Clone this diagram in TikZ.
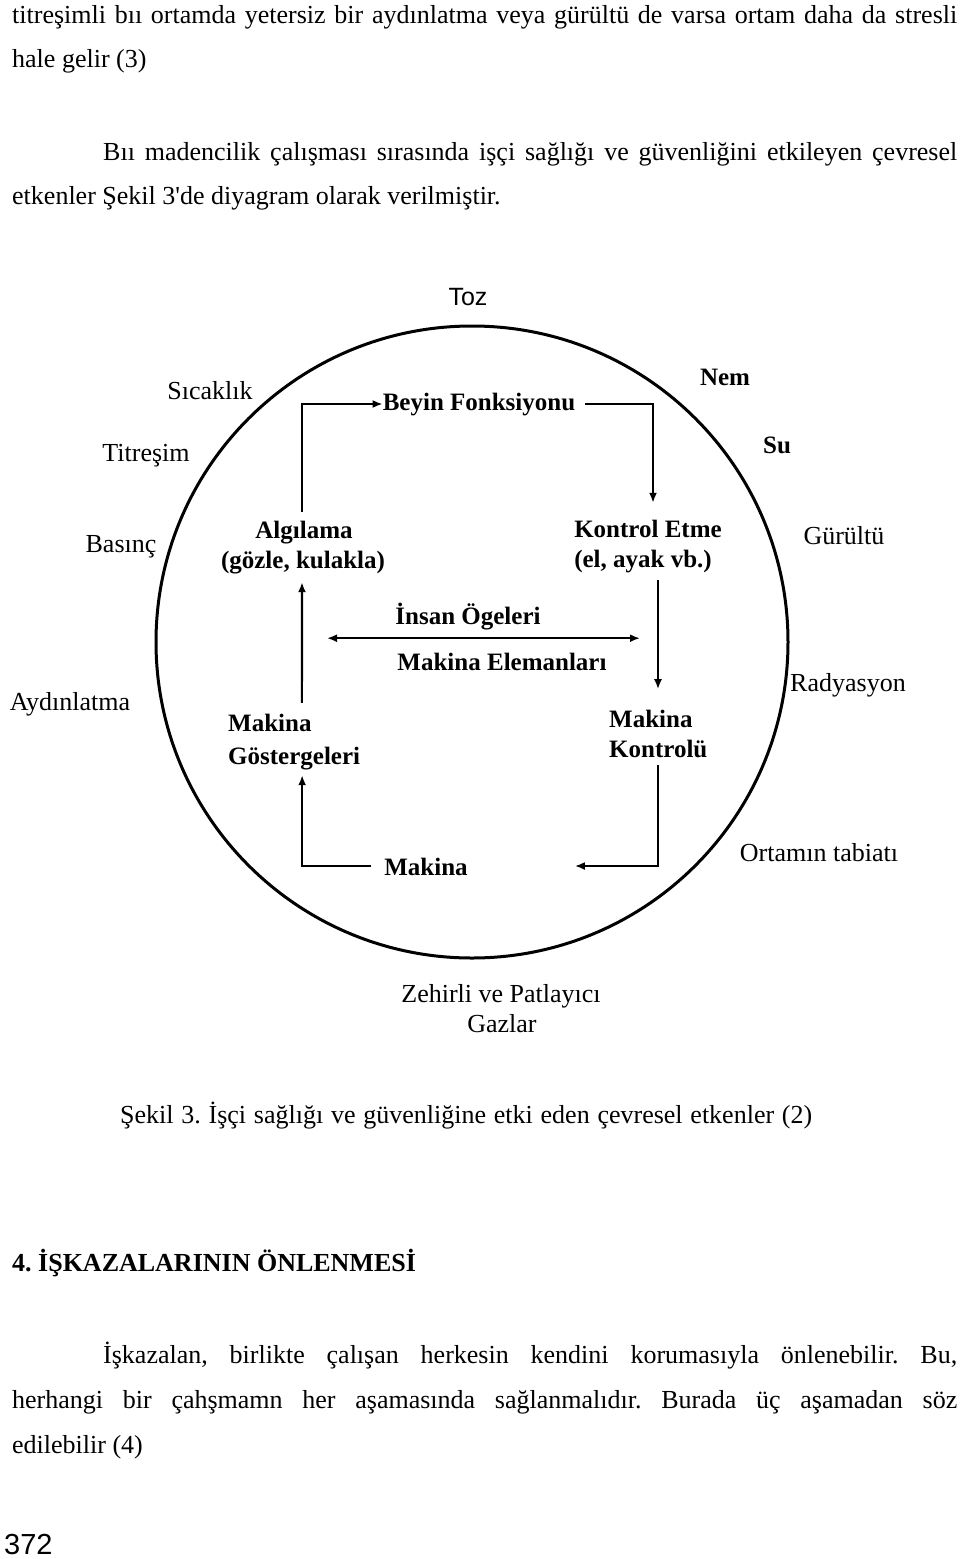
\documentclass[tikz,border=0pt]{standalone}
\usepackage{fontspec}
\setmainfont{Liberation Serif}
\newfontfamily\straightfont{Liberation Serif}
\newfontfamily\arialfont{Liberation Sans}
\usetikzlibrary{arrows.meta}
\frenchspacing
\begin{document}
\begin{tikzpicture}[x=1pt,y=-1pt,
  body/.style={inner sep=0pt, text height=17pt, text depth=5pt, font=\fontsize{26}{30}\selectfont\frenchspacing},
  lab/.style={inner sep=0pt, text height=17pt, text depth=5pt, font=\fontsize{26}{30}\selectfont},
  inlab/.style={inner sep=0pt, text height=17pt, text depth=5pt, font=\fontsize{25}{30}\selectfont\bfseries},
  flow/.style={line width=2.2pt, -{Latex[length=10pt,width=8pt]}},
  dflow/.style={line width=2.2pt, {Latex[length=10pt,width=8pt]}-{Latex[length=10pt,width=8pt]}},
  ]
\useasboundingbox (0,0) rectangle (960,1559);
\fill[white] (0,0) rectangle (960,1559);

% body text above
\node[body, anchor=west] (p1) at (12,17) {\makebox[945pt][s]{titreşimli bıı ortamda yetersiz bir aydınlatma veya gürültü de varsa ortam daha da stresli}};
\node[body, anchor=west] (p2) at (12,61) {hale gelir (3)};
\node[body, anchor=west] (p3) at (103,154) {\makebox[854pt][s]{Bıı madencilik çalışması sırasında işçi sağlığı ve güvenliğini etkileyen çevresel}};
\node[body, anchor=west] (p4) at (12,198) {etkenler Şekil {\straightfont 3'de} diyagram olarak verilmiştir.};

% circle
\node[draw, circle, line width=3pt, minimum size=632pt, inner sep=0pt] (env) at (472,642) {};

% outer labels
\node[anchor=base, inner sep=0pt, font=\arialfont\fontsize{25}{30}\selectfont] (toz) at (468,305) {Toz};
\node[lab] (sic) at (210,393) {Sıcaklık};
\node[lab] (tit) at (146,455) {Titreşim};
\node[lab] (bas) at (121,546) {Basınç};
\node[lab] (ayd) at (70,704) {Aydınlatma};
\node[lab] (gur) at (844,538) {Gürültü};
\node[lab] (rad) at (848,685) {Radyasyon};
\node[lab] (ort) at (819,855) {Ortamın tabiatı};
\node[lab] (zeh) at (501,996) {Zehirli ve Patlayıcı};
\node[lab] (gaz) at (502,1026) {Gazlar};
\node[inlab] (nem) at (725,379) {Nem};
\node[inlab] (su) at (777,447) {Su};

% inner labels
\node[inlab] (bf) at (479,404) {Beyin Fonksiyonu};
\node[inlab] (alg) at (304,532) {Algılama};
\node[inlab] (alg2) at (303,562) {(gözle, kulakla)};
\node[inlab] (kon) at (648,531) {Kontrol Etme};
\node[inlab] (kon2) at (643,561) {(el, ayak vb.)};
\node[inlab] (ins) at (468,618) {İnsan Ögeleri};
\node[inlab] (mel) at (502,664) {Makina Elemanları};
\node[inlab, anchor=west] (mg1) at (228,725) {Makina};
\node[inlab, anchor=west] (mg2) at (228,758) {Göstergeleri};
\node[inlab, anchor=west] (mk1) at (609,721) {Makina};
\node[inlab, anchor=west] (mk2) at (609,751) {Kontrolü};
\node[inlab] (mak) at (426,869) {Makina};

% connectors
\draw[flow] ([xshift=-2pt,yshift=9pt]alg.north) |- (bf.west);
\draw[flow] ([xshift=10pt]bf.east) -| ([xshift=5pt,yshift=17pt]kon.north);
\draw[flow] ([xshift=15pt,yshift=-8pt]kon2.south) -- ([xshift=15pt,yshift=-117pt]kon2.south);
\draw[flow] ([yshift=-3pt]mk2.south) |- ([xshift=107pt,yshift=3pt]mak.east);
\draw[flow] ([xshift=-13pt,yshift=3pt]mak.west) -| ([xshift=8pt,yshift=-6pt]mg2.south);
\draw[flow] ([xshift=32pt,yshift=11pt]mg1.north) -- ([xshift=-1pt,yshift=-9pt]alg2.south);
\draw[dflow] ([xshift=-141pt,yshift=-9pt]ins.south) -- ([xshift=172pt,yshift=-9pt]ins.south);

% caption and text below
\node[body, anchor=west] (cap) at (120,1117) {\makebox[692pt][s]{Şekil 3. İşçi sağlığı ve güvenliğine etki eden çevresel etkenler (2)}};
\node[body, anchor=west, font=\fontsize{26}{30}\selectfont\bfseries] (head) at (12,1265) {4. İŞKAZALARININ ÖNLENMESİ};
\node[body, anchor=west] (q1) at (103,1357) {\makebox[854pt][s]{İşkazalan, birlikte çalışan herkesin kendini korumasıyla önlenebilir. Bu,}};
\node[body, anchor=west] (q2) at (12,1402) {\makebox[945pt][s]{herhangi bir çahşmamn her aşamasında sağlanmalıdır. Burada üç aşamadan söz}};
\node[body, anchor=west] (q3) at (12,1447) {edilebilir (4)};
\node[anchor=base west, inner sep=0pt, font=\arialfont\fontsize{29}{32}\selectfont] (pg) at (4,1554) {372};
\end{tikzpicture}
\end{document}
